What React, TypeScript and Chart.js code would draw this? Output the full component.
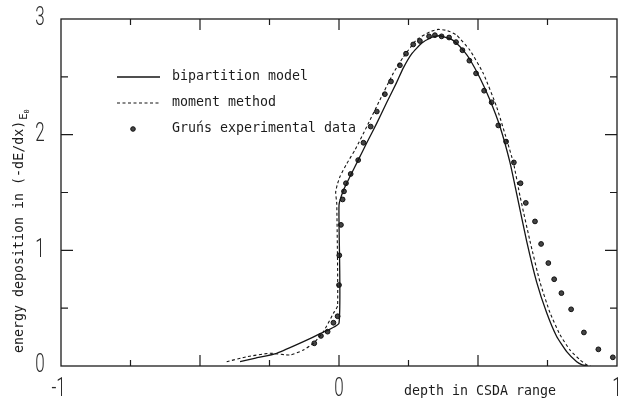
import React, { useEffect, useRef } from "react";
import { Chart, registerables } from "chart.js";

Chart.register(...registerables);

// ---- data ----
const bipartitionX = [-0.356, -0.30, -0.224, -0.128, -0.068, 0, 0, 0.016, 0.04, 0.069, 0.10, 0.136, 0.172, 0.207, 0.231, 0.262, 0.297, 0.333, 0.36, 0.40, 0.423, 0.45, 0.471, 0.507, 0.543, 0.579, 0.615, 0.639, 0.675, 0.711, 0.747, 0.783, 0.819, 0.855, 0.875, 0.895];
const bipartitionY = [0.037, 0.068, 0.11, 0.21, 0.28, 0.37, 1.39, 1.52, 1.64, 1.78, 1.93, 2.10, 2.28, 2.45, 2.575, 2.70, 2.79, 2.84, 2.855, 2.83, 2.79, 2.72, 2.65, 2.49, 2.30, 2.07, 1.76, 1.49, 1.08, 0.725, 0.46, 0.255, 0.124, 0.037, 0.01, 0.0];

const momentX = [-0.404, -0.332, -0.248, -0.176, -0.128, -0.092, -0.056, -0.02, -0.005, -0.008, -0.012, -0.006, 0.004, 0.028, 0.058, 0.10, 0.147, 0.195, 0.231, 0.279, 0.327, 0.357, 0.39, 0.423, 0.471, 0.519, 0.567, 0.627, 0.651, 0.687, 0.723, 0.759, 0.795, 0.831, 0.867, 0.891, 0.905];
const momentY = [0.037, 0.08, 0.11, 0.095, 0.138, 0.196, 0.297, 0.456, 0.52, 1.40, 1.50, 1.57, 1.64, 1.75, 1.87, 2.07, 2.30, 2.53, 2.67, 2.82, 2.89, 2.91, 2.90, 2.86, 2.73, 2.53, 2.24, 1.76, 1.47, 1.08, 0.725, 0.46, 0.27, 0.138, 0.052, 0.01, 0.0];

const grunX = [-0.089, -0.065, -0.041, -0.02, -0.005, 0.0, 0.001, 0.007, 0.013, 0.018, 0.025, 0.042, 0.069, 0.088, 0.114, 0.136, 0.165, 0.187, 0.219, 0.241, 0.267, 0.291, 0.324, 0.345, 0.369, 0.396, 0.421, 0.444, 0.469, 0.493, 0.522, 0.549, 0.573, 0.601, 0.629, 0.653, 0.672, 0.705, 0.727, 0.753, 0.774, 0.80, 0.835, 0.881, 0.933, 0.985, 1.029];
const grunY = [0.196, 0.26, 0.297, 0.374, 0.43, 0.70, 0.957, 1.22, 1.44, 1.51, 1.58, 1.66, 1.78, 1.93, 2.07, 2.20, 2.35, 2.46, 2.60, 2.70, 2.78, 2.81, 2.85, 2.86, 2.85, 2.84, 2.80, 2.73, 2.64, 2.53, 2.38, 2.28, 2.08, 1.94, 1.76, 1.58, 1.41, 1.25, 1.055, 0.89, 0.75, 0.63, 0.49, 0.29, 0.144, 0.075, 0.035];

const xTickLabels = ["-1", "0", "1"];
const xTickValues = [-1, 0, 1];
const yTickLabels = ["0", "1", "2", "3"];
const yTickValues = [0, 1, 2, 3];
const xMajorTicks = [-0.5, 0, 0.5];
const xMinorTicks = [-0.75, -0.25, 0.25, 0.75];
const yMajorTicks = [1, 2];
const yMinorTicks = [0.5, 1.5, 2.5];

const seriesNames = ["bipartition model", "moment method", "Gruńs experimental data"];
const xTitle = "depth in CSDA range";
const yTitle = "energy deposition in (-dE/dx)";
const yTitleSub = "E";
const yTitleSubSub = "0";

const INK = "#1c1c1c";
const MONO = "'DejaVu Sans Mono', monospace";
const DIGIT = "300 25px Roboto, 'DejaVu Sans', sans-serif";

const toPts = (xs: number[], ys: number[]) => xs.map((x, i) => ({ x, y: ys[i] }));

const decorPlugin = {
  id: "decor",
  afterDraw(chart: any) {
    const { ctx, chartArea, scales } = chart;
    const xs = scales.x;
    const ys = scales.y;
    const { left, right, top, bottom } = chartArea;
    ctx.save();
    // frame
    ctx.strokeStyle = INK;
    ctx.lineWidth = 1.3;
    ctx.strokeRect(left, top, right - left, bottom - top);
    // ticks
    ctx.lineWidth = 1.2;
    const vTick = (v: number, len: number) => {
      const px = xs.getPixelForValue(v);
      ctx.beginPath();
      ctx.moveTo(px, bottom);
      ctx.lineTo(px, bottom - len);
      ctx.moveTo(px, top);
      ctx.lineTo(px, top + len);
      ctx.stroke();
    };
    const hTick = (v: number, len: number) => {
      const py = ys.getPixelForValue(v);
      ctx.beginPath();
      ctx.moveTo(left, py);
      ctx.lineTo(left + len, py);
      ctx.moveTo(right, py);
      ctx.lineTo(right - len, py);
      ctx.stroke();
    };
    xMajorTicks.forEach((v) => vTick(v, 11));
    xMinorTicks.forEach((v) => vTick(v, 6));
    yMajorTicks.forEach((v) => hTick(v, 12));
    yMinorTicks.forEach((v) => hTick(v, 7));

    // tick labels (condensed thin digits)
    ctx.fillStyle = "#2a2a2a";
    ctx.font = DIGIT;
    ctx.textBaseline = "middle";
    const sx = 0.68;
    const drawCondensed = (text: string, cx: number, cy: number, anchorLast: boolean) => {
      ctx.save();
      ctx.translate(cx, cy);
      ctx.scale(sx, 1);
      if (anchorLast && text.length > 1) {
        const lastW = ctx.measureText(text.slice(-1)).width;
        ctx.textAlign = "right";
        ctx.fillText(text, lastW / 2, 0);
      } else {
        ctx.textAlign = "center";
        ctx.fillText(text, 0, 0);
      }
      ctx.restore();
    };
    yTickValues.forEach((v, i) => drawCondensed(yTickLabels[i], 40, ys.getPixelForValue(v), false));
    xTickValues.forEach((v, i) => drawCondensed(xTickLabels[i], xs.getPixelForValue(v), 390, true));

    // axis titles
    ctx.fillStyle = INK;
    ctx.font = `13.3px ${MONO}`;
    ctx.textAlign = "center";
    ctx.textBaseline = "middle";
    ctx.fillText(xTitle, 480, 392);

    ctx.save();
    ctx.translate(20, 353);
    ctx.rotate(-Math.PI / 2);
    ctx.textAlign = "left";
    ctx.textBaseline = "middle";
    ctx.font = `13.3px ${MONO}`;
    ctx.fillText(yTitle, 0, 0);
    const w = ctx.measureText(yTitle).width;
    ctx.font = `10.5px ${MONO}`;
    ctx.fillText(yTitleSub, w + 1, 4);
    const w2 = ctx.measureText(yTitleSub).width;
    ctx.font = `7px ${MONO}`;
    ctx.fillText(yTitleSubSub, w + 1 + w2, 7);
    ctx.restore();

    // legend
    ctx.font = `13.3px ${MONO}`;
    ctx.textAlign = "left";
    ctx.textBaseline = "middle";
    const rows = [77, 103, 129];
    const ds = chart.data.datasets;
    ctx.strokeStyle = ds[0].borderColor;
    ctx.lineWidth = ds[0].borderWidth;
    ctx.beginPath();
    ctx.moveTo(117, rows[0]);
    ctx.lineTo(160, rows[0]);
    ctx.stroke();
    ctx.setLineDash(ds[1].borderDash);
    ctx.lineWidth = ds[1].borderWidth;
    ctx.beginPath();
    ctx.moveTo(117, rows[1]);
    ctx.lineTo(160, rows[1]);
    ctx.stroke();
    ctx.setLineDash([]);
    ctx.fillStyle = ds[2].pointBackgroundColor;
    ctx.strokeStyle = ds[2].pointBorderColor;
    ctx.lineWidth = 1;
    ctx.beginPath();
    ctx.arc(133, rows[2], 2.3, 0, Math.PI * 2);
    ctx.fill();
    ctx.stroke();
    ctx.fillStyle = INK;
    seriesNames.forEach((n, i) => ctx.fillText(n, 172, rows[i]));
    ctx.restore();
  },
};

export default function App() {
  const ref = useRef<HTMLCanvasElement | null>(null);
  useEffect(() => {
    document.body.style.margin = "0";
    const canvas = ref.current;
    if (!canvas) return;
    const chart = new Chart(canvas, {
      type: "scatter",
      data: {
        datasets: [
          {
            label: seriesNames[0],
            data: toPts(bipartitionX, bipartitionY),
            showLine: true,
            borderColor: "#151515",
            borderWidth: 1.3,
            pointRadius: 0,
            tension: 0.15,
          },
          {
            label: seriesNames[1],
            data: toPts(momentX, momentY),
            showLine: true,
            borderColor: "#151515",
            borderWidth: 1.1,
            borderDash: [3, 2.5],
            pointRadius: 0,
            tension: 0.15,
          },
          {
            label: seriesNames[2],
            data: toPts(grunX, grunY),
            showLine: false,
            pointRadius: 2.4,
            pointBackgroundColor: "#444",
            pointBorderColor: "#111",
            pointBorderWidth: 1,
            clip: false as any,
          },
        ],
      },
      options: {
        animation: false,
        responsive: false,
        devicePixelRatio: 1,
        layout: { padding: { left: 61, right: 17, top: 19, bottom: 38 } },
        plugins: { legend: { display: false }, tooltip: { enabled: false } },
        scales: {
          x: { type: "linear", min: -1, max: 1, display: false },
          y: { type: "linear", min: 0, max: 3, display: false },
        },
      },
      plugins: [decorPlugin],
    });
    return () => chart.destroy();
  }, []);
  return (
    <div style={{ width: 634, height: 404, background: "#fff" }}>
      <canvas ref={ref} width={634} height={404} style={{ display: "block" }} />
    </div>
  );
}
